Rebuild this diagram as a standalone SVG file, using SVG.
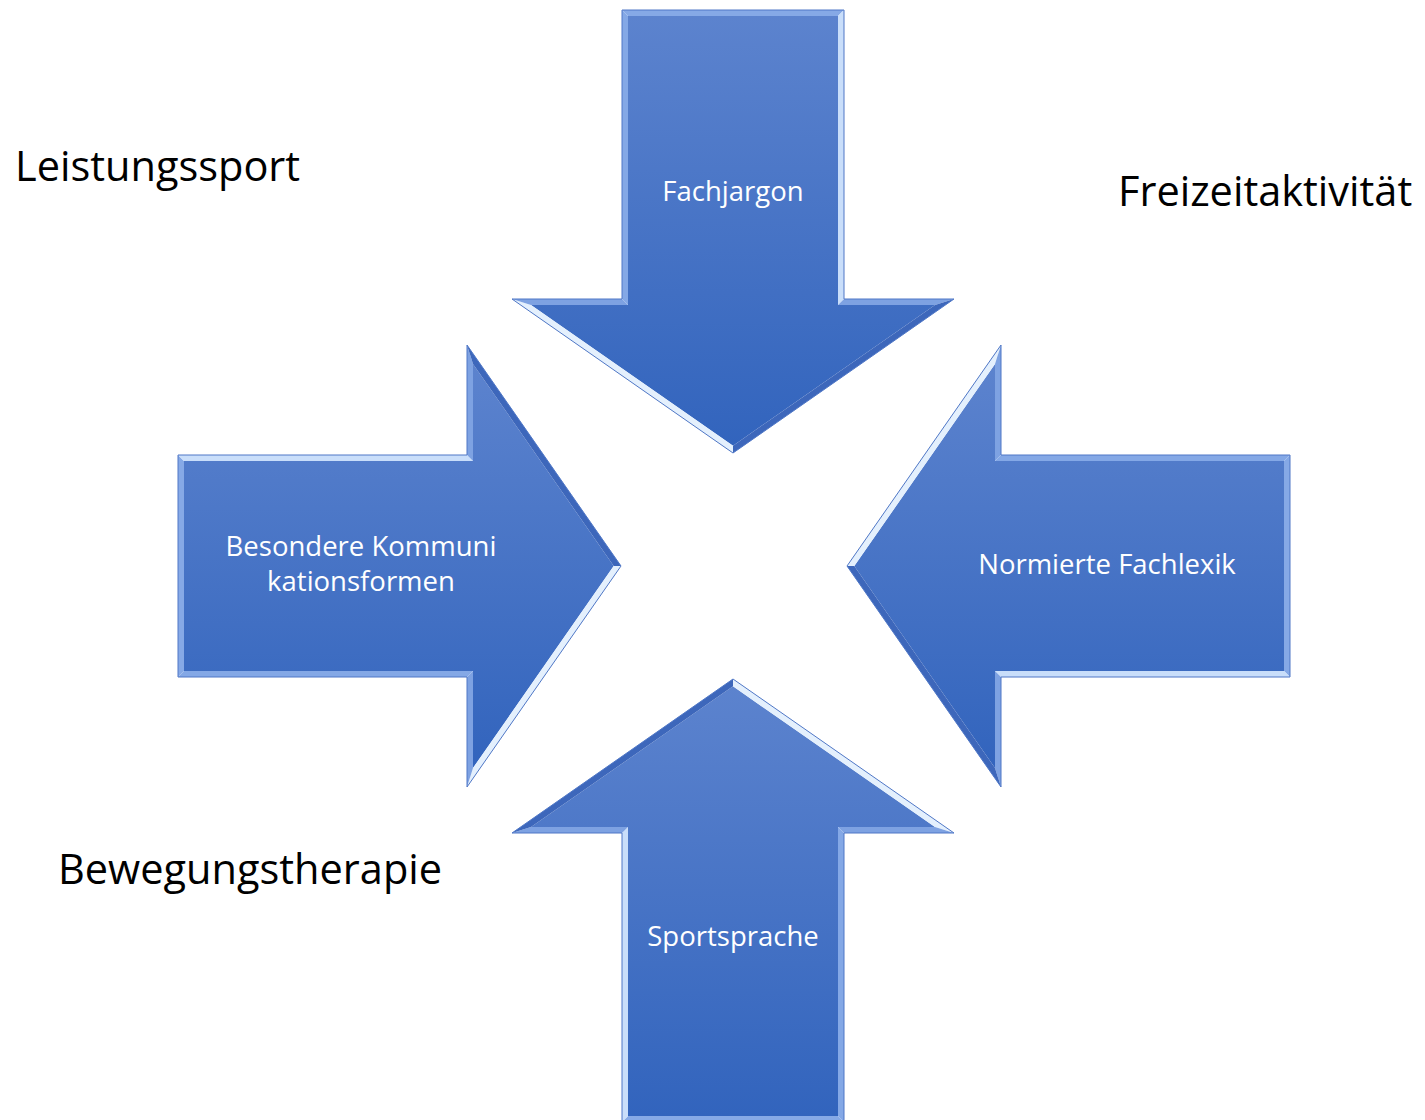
<svg xmlns="http://www.w3.org/2000/svg" xmlns:xlink="http://www.w3.org/1999/xlink" width="1425" height="1120" viewBox="0 0 1425 1120">
<style>
.lbl{font-family:"Open Sans","Noto Sans",sans-serif;font-size:27.5px;fill:#ffffff;text-anchor:middle}
.out{font-family:"Open Sans","Noto Sans",sans-serif;font-size:41.5px;fill:#000000}
.o{stroke:#4f77c6;stroke-width:1;fill:none}
</style>
<defs>
<linearGradient id="gV" x1="0" y1="0" x2="0" y2="1"><stop offset="0" stop-color="#5c83ce"/><stop offset="1" stop-color="#3264bd"/></linearGradient>
<g id="bevel">
<polygon points="-111,-443 111,-443 105,-437 -105,-437" fill="#86a9e6"/>
<polygon points="111,-443 111,-154 105,-148 105,-437" fill="#c9defa"/>
<polygon points="111,-154 221,-154 202,-148 105,-148" fill="#7ea2e2"/>
<polygon points="221,-154 0,0 0,-7.3 202,-148" fill="#3d67bb"/>
<polygon points="0,0 -221,-154 -202,-148 0,-7.3" fill="#e4f0fd"/>
<polygon points="-221,-154 -111,-154 -105,-148 -202,-148" fill="#7ea2e2"/>
<polygon points="-111,-154 -111,-443 -105,-437 -105,-148" fill="#84a8e6"/>
<polygon class="o" points="-111,-443 111,-443 111,-154 221,-154 0,0 -221,-154 -111,-154"/>
</g>
</defs>
<g id="arrow-top">
<polygon points="628,16 838,16 838,305 935,305 733,445.7 531,305 628,305" fill="url(#gV)"/>
<use xlink:href="#bevel" transform="translate(733,453)"/>
<text class="lbl" x="733" y="201">Fachjargon</text>
</g>
<g id="arrow-left">
<polygon points="184,671 184,461 473,461 473,364 613.7,566 473,768 473,671" fill="url(#gV)"/>
<use xlink:href="#bevel" transform="translate(621,566) rotate(-90)"/>
<text class="lbl" x="361" y="556">Besondere Kommuni</text>
<text class="lbl" x="361" y="591">kationsformen</text>
</g>
<g id="arrow-right">
<polygon points="1284,461 1284,671 995,671 995,768 854.3,566 995,364 995,461" fill="url(#gV)"/>
<use xlink:href="#bevel" transform="translate(847,566) rotate(90)"/>
<text class="lbl" x="1107" y="574">Normierte Fachlexik</text>
</g>
<g id="arrow-bottom">
<polygon points="838,1116 628,1116 628,827 531,827 733,686.3 935,827 838,827" fill="url(#gV)"/>
<use xlink:href="#bevel" transform="translate(733,679) rotate(180)"/>
<text class="lbl" x="733" y="946">Sportsprache</text>
</g>
<g id="labels">
<text class="out" x="15" y="181">Leistungssport</text>
<text class="out" x="1118" y="206">Freizeitaktivität</text>
<text class="out" x="58" y="884">Bewegungstherapie</text>
</g>
<g id="connectors"/>
</svg>
